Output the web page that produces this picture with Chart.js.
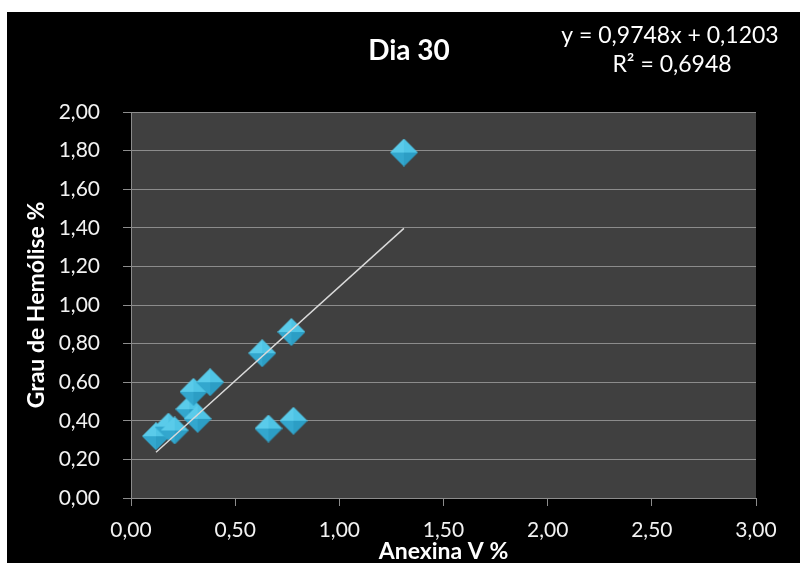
<!DOCTYPE html>
<html>

<head>
    <meta charset='utf-8'>
    <title>Dia 30</title>
    <script src="https://cdn.jsdelivr.net/npm/chart.js@4.4.0/dist/chart.umd.min.js"></script>
    <style>
        body { margin: 0; background: #fff; }
    </style>
</head>

<body>
    <canvas id="myChart" width="800" height="563"></canvas>
    <script>
        const ctx = document.getElementById('myChart').getContext('2d');

        // valores (Anexina V % vs Grau de Hemolise %)
        const anexinaV = [0.12, 0.18, 0.21, 0.28, 0.32, 0.30, 0.38, 0.63, 0.77, 0.66, 0.78, 1.31];
        const hemolise = [0.32, 0.37, 0.35, 0.46, 0.41, 0.55, 0.60, 0.75, 0.86, 0.36, 0.40, 1.79];

        // linha de tendencia do Excel
        const slope = 0.9748;
        const intercept = 0.1203;
        const equacao = ['y = 0,9748x + 0,1203', 'R\u00b2 = 0,6948'];
        const titulo = 'Dia 30';

        const xMin = Math.min(...anexinaV);
        const xMax = Math.max(...anexinaV);
        const trendData = [xMin, xMax].map(x => ({ x: x, y: slope * x + intercept }));
        const points = anexinaV.map((x, i) => ({ x: x, y: hemolise[i] }));

        const fmt = v => v.toFixed(2).replace('.', ',');

        // losango com faces (estilo Excel)
        function diamond(size) {
            const c = document.createElement('canvas');
            c.width = size; c.height = size;
            const g = c.getContext('2d');
            const m = size / 2;
            const faces = [
                [[m, 0], [0, m], '#5acbea'],
                [[m, 0], [size, m], '#4fc4e5'],
                [[size, m], [m, size], '#2c9ec5'],
                [[0, m], [m, size], '#33a7ce'],
            ];
            faces.forEach(f => {
                g.beginPath();
                g.moveTo(m, m);
                g.lineTo(f[0][0], f[0][1]);
                g.lineTo(f[1][0], f[1][1]);
                g.closePath();
                g.fillStyle = f[2];
                g.fill();
            });
            return c;
        }

        const background = {
            id: 'background',
            beforeDraw(chart) {
                const c = chart.ctx;
                const a = chart.chartArea;
                c.save();
                c.fillStyle = '#000';
                c.fillRect(7, 12, chart.width - 7, chart.height - 12);
                c.fillStyle = '#404040';
                c.fillRect(a.left, a.top, a.right - a.left, a.bottom - a.top);
                c.restore();
            },
            afterDraw(chart) {
                const c = chart.ctx;
                c.save();
                c.fillStyle = '#fff';
                c.textAlign = 'center';
                c.textBaseline = 'middle';
                c.font = 'bold 28px Lato';
                c.fillText(titulo, 409, 51);
                c.font = '23px Lato';
                c.fillText(equacao[0], 670, 36);
                c.fillText(equacao[1], 672, 65);
                c.restore();
            }
        };

        const myChart = new Chart(ctx, {
            type: 'scatter',
            data: {
                datasets: [{
                    type: 'line',
                    label: 'tendencia',
                    data: trendData,
                    borderColor: '#d9d9d9',
                    borderWidth: 1.5,
                    pointRadius: 0,
                    order: 0
                }, {
                    label: 'Dia 30',
                    data: points,
                    pointStyle: diamond(28),
                    order: 1
                }]
            },
            options: {
                responsive: false,
                animation: false,
                layout: {
                    padding: { left: 7, top: 112, right: 44, bottom: 0 }
                },
                scales: {
                    x: {
                        type: 'linear',
                        min: 0,
                        max: 3,
                        afterFit: s => { s.height = 65; },
                        ticks: {
                            stepSize: 0.5,
                            color: '#f2f2f2',
                            padding: 12,
                            font: { family: 'Lato', size: 21 },
                            callback: fmt
                        },
                        grid: {
                            drawOnChartArea: false,
                            color: '#8c8c8c',
                            tickLength: 8
                        },
                        border: { color: '#8c8c8c' },
                        title: {
                            display: true,
                            text: 'Anexina V %',
                            color: '#fff',
                            padding: 0,
                            font: { family: 'Lato', size: 23, weight: 'bold', lineHeight: 1 }
                        }
                    },
                    y: {
                        min: 0,
                        max: 2,
                        afterFit: s => { s.width = 124; },
                        ticks: {
                            stepSize: 0.2,
                            color: '#f2f2f2',
                            padding: 23,
                            font: { family: 'Lato', size: 21 },
                            callback: fmt
                        },
                        grid: {
                            color: '#8c8c8c',
                            tickLength: 8
                        },
                        border: { color: '#8c8c8c' },
                        title: {
                            display: true,
                            text: 'Grau de Hemólise %',
                            color: '#fff',
                            padding: { top: 18, bottom: 0 },
                            font: { family: 'Lato', size: 23, weight: 'bold', lineHeight: 1 }
                        }
                    }
                },
                plugins: {
                    legend: { display: false },
                    tooltip: { enabled: false }
                }
            },
            plugins: [background]
        });
    </script>
</body>

</html>
